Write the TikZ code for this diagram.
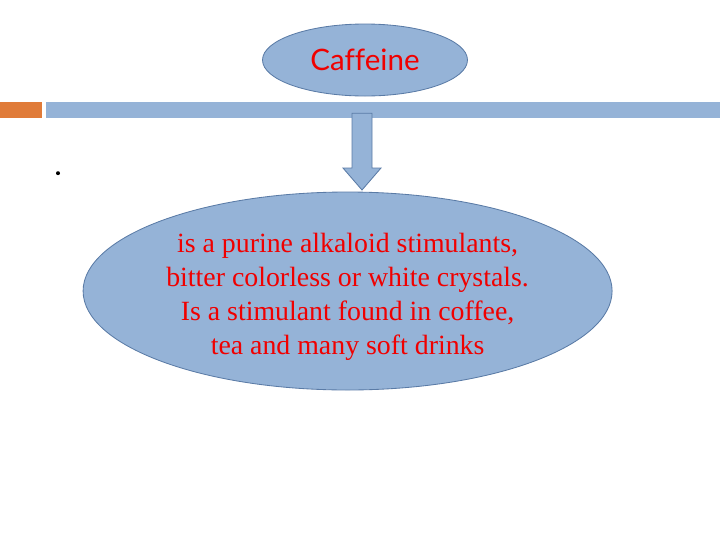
\documentclass[tikz,border=0pt]{standalone}
\usepackage{fontspec}
\setmainfont{Liberation Serif}
\newfontfamily\titlefont[Ligatures=NoCommon]{Lato}
\usetikzlibrary{shapes.geometric}
\definecolor{slideblue}{HTML}{95B3D7}
\definecolor{edgeblue}{HTML}{5A7BA6}
\definecolor{slideorange}{HTML}{E07B39}
\definecolor{textred}{HTML}{F00000}

\begin{document}
\begin{tikzpicture}[
	bubble/.style={ellipse,draw=edgeblue,fill=slideblue,line width=0.6pt,inner sep=0pt},
	redtext/.style={text=textred}
	]
				\useasboundingbox (0,0) rectangle (18,-13.5);
				% header bars
				\fill[slideorange] (0,-2.55) rectangle (1.05,-2.95);
				\fill[slideblue] (1.15,-2.55) rectangle (18,-2.95);
				% title bubble
				\node[bubble,redtext,minimum width=5.125cm,minimum height=1.8cm,font=\titlefont\fontsize{21}{24}\selectfont] (caffeine) at (9.125,-1.5) {Caffeine};
				% block arrow down
				\draw[edgeblue,fill=slideblue,line width=0.6pt] (8.8,-2.83) -- (9.3,-2.83) -- (9.3,-4.2) -- (9.525,-4.2) -- (9.05,-4.75) -- (8.575,-4.2) -- (8.8,-4.2) -- cycle;
				\fill (1.45,-4.33) circle (0.05);
				% definition bubble
				\node[bubble,minimum width=13.225cm,minimum height=4.95cm] (definition) at (8.69,-7.275) {};
				\node[redtext,align=center,font=\fontsize{19.8}{24.2}\selectfont] (definitiontext) at ([yshift=-0.15cm]definition.center) {is a purine alkaloid stimulants,\\bitter colorless or white crystals.\\Is a stimulant found in coffee,\\tea and many soft drinks};
			\end{tikzpicture}
\end{document}
